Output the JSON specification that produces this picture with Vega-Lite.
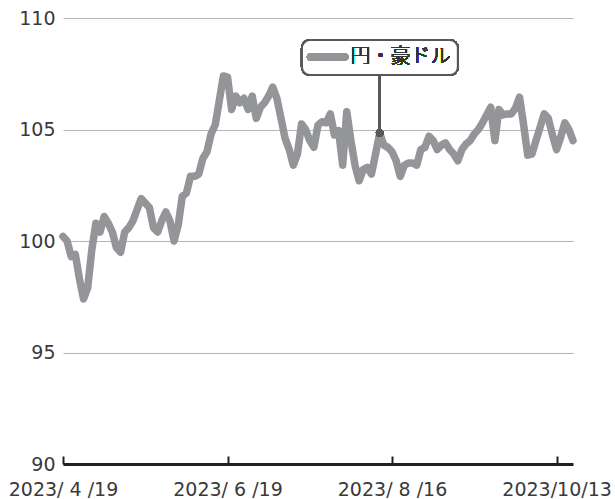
{
  "$schema": "https://vega.github.io/schema/vega-lite/v6.json",
  "autosize": "none",
  "width": 510,
  "height": 446,
  "padding": {"left": 63, "top": 18, "right": 42, "bottom": 35},
  "background": "white",
  "config": {
    "font": "DejaVu Sans",
    "view": {"stroke": null}
  },
  "data": {"values": [
    {"i":0,"value":100.2},{"i":1,"value":100.0},{"i":2,"value":99.3},{"i":3,"value":99.4},{"i":4,"value":98.3},
    {"i":5,"value":97.4},{"i":6,"value":97.9},{"i":7,"value":99.6},{"i":8,"value":100.8},{"i":9,"value":100.4},
    {"i":10,"value":101.1},{"i":11,"value":100.8},{"i":12,"value":100.4},{"i":13,"value":99.7},{"i":14,"value":99.5},
    {"i":15,"value":100.4},{"i":16,"value":100.6},{"i":17,"value":100.9},{"i":18,"value":101.4},{"i":19,"value":101.9},
    {"i":20,"value":101.7},{"i":21,"value":101.5},{"i":22,"value":100.6},{"i":23,"value":100.4},{"i":24,"value":100.9},
    {"i":25,"value":101.3},{"i":26,"value":100.9},{"i":27,"value":100.0},{"i":28,"value":100.7},{"i":29,"value":102.0},
    {"i":30,"value":102.15},{"i":31,"value":102.9},{"i":32,"value":102.9},{"i":33,"value":103.0},{"i":34,"value":103.7},
    {"i":35,"value":104.0},{"i":36,"value":104.8},{"i":37,"value":105.2},{"i":38,"value":106.3},{"i":39,"value":107.4},
    {"i":40,"value":107.35},{"i":41,"value":105.9},{"i":42,"value":106.5},{"i":43,"value":106.2},{"i":44,"value":106.4},
    {"i":45,"value":105.9},{"i":46,"value":106.5},{"i":47,"value":105.5},{"i":48,"value":106.0},{"i":49,"value":106.2},
    {"i":50,"value":106.5},{"i":51,"value":106.9},{"i":52,"value":106.4},{"i":53,"value":105.5},{"i":54,"value":104.6},
    {"i":55,"value":104.1},{"i":56,"value":103.4},{"i":57,"value":103.9},{"i":58,"value":105.25},{"i":59,"value":105.0},
    {"i":60,"value":104.5},{"i":61,"value":104.2},{"i":62,"value":105.2},{"i":63,"value":105.35},{"i":64,"value":105.3},
    {"i":65,"value":105.7},{"i":66,"value":104.75},{"i":67,"value":104.95},{"i":68,"value":103.4},{"i":69,"value":105.8},
    {"i":70,"value":104.5},{"i":71,"value":103.4},{"i":72,"value":102.7},{"i":73,"value":103.2},{"i":74,"value":103.3},
    {"i":75,"value":103.0},{"i":76,"value":103.9},{"i":77,"value":104.85},{"i":78,"value":104.3},{"i":79,"value":104.2},
    {"i":80,"value":104.0},{"i":81,"value":103.6},{"i":82,"value":102.9},{"i":83,"value":103.4},{"i":84,"value":103.5},
    {"i":85,"value":103.5},{"i":86,"value":103.4},{"i":87,"value":104.1},{"i":88,"value":104.2},{"i":89,"value":104.7},
    {"i":90,"value":104.5},{"i":91,"value":104.1},{"i":92,"value":104.3},{"i":93,"value":104.4},{"i":94,"value":104.1},
    {"i":95,"value":103.9},{"i":96,"value":103.6},{"i":97,"value":104.1},{"i":98,"value":104.35},{"i":99,"value":104.5},
    {"i":100,"value":104.8},{"i":101,"value":105.0},{"i":102,"value":105.3},{"i":103,"value":105.65},{"i":104,"value":106.0},
    {"i":105,"value":104.5},{"i":106,"value":105.9},{"i":107,"value":105.65},{"i":108,"value":105.7},{"i":109,"value":105.7},
    {"i":110,"value":105.95},{"i":111,"value":106.45},{"i":112,"value":105.2},{"i":113,"value":103.85},{"i":114,"value":103.9},
    {"i":115,"value":104.5},{"i":116,"value":105.1},{"i":117,"value":105.7},{"i":118,"value":105.5},{"i":119,"value":104.75},
    {"i":120,"value":104.1},{"i":121,"value":104.65},{"i":122,"value":105.3},{"i":123,"value":105.0},{"i":124,"value":104.5}
  ]},
  "encoding": {
    "x": {
      "field": "i", "type": "quantitative",
      "scale": {"domain": [0, 124], "nice": false, "zero": false},
      "axis": {
        "title": null, "grid": false,
        "values": [0, 40, 80, 120],
        "labelExpr": "datum.value == 0 ? '2023/ 4 /19' : datum.value == 40 ? '2023/ 6 /19' : datum.value == 80 ? '2023/ 8 /16' : '2023/10/13'",
        "domainColor": "#231f20", "domainWidth": 3,
        "tickColor": "#231f20", "tickWidth": 2, "tickSize": -8,
        "labelFontSize": 19, "labelColor": "#3a3a3a", "labelPadding": 24,
        "labelFlush": false, "labelOverlap": false
      }
    },
    "y": {
      "field": "value", "type": "quantitative",
      "scale": {"domain": [90, 110], "nice": false, "zero": false},
      "axis": {
        "title": null, "values": [90, 95, 100, 105, 110],
        "domain": false, "ticks": false,
        "grid": true, "gridColor": "#b5b5b5", "gridWidth": 1,
        "labelFontSize": 19, "labelColor": "#3a3a3a", "labelPadding": 8
      }
    }
  },
  "layer": [
    {
      "mark": {"type": "line", "color": "#939598", "strokeWidth": 7.5, "strokeJoin": "round", "strokeCap": "round"}
    },
    {
      "mark": {"type": "rule", "color": "#58595b", "strokeWidth": 2},
      "encoding": {
        "x": {"datum": 77, "type": "quantitative"},
        "y": {"datum": 107.44, "type": "quantitative"},
        "y2": {"datum": 104.85}
      }
    },
    {
      "mark": {"type": "point", "filled": true, "color": "#58595b", "size": 55, "opacity": 1},
      "encoding": {
        "x": {"datum": 77, "type": "quantitative"},
        "y": {"datum": 104.85, "type": "quantitative"}
      }
    },
    {
      "mark": {"type": "rect", "fill": "white", "stroke": "#58595b", "strokeWidth": 2, "cornerRadius": 8},
      "encoding": {
        "x": {"datum": 58.1, "type": "quantitative"},
        "x2": {"datum": 96.0},
        "y": {"datum": 109.01, "type": "quantitative"},
        "y2": {"datum": 107.44}
      }
    },
    {
      "mark": {"type": "rule", "color": "#939598", "strokeWidth": 7.5, "strokeCap": "round"},
      "encoding": {
        "x": {"datum": 60.2, "type": "quantitative"},
        "x2": {"datum": 68.5},
        "y": {"datum": 108.25, "type": "quantitative"}
      }
    },
    {
      "mark": {"type": "text", "text": "円・豪ドル", "font": "Noto Sans CJK JP", "fontWeight": 300, "fontSize": 20, "color": "#333333", "align": "left", "baseline": "middle"},
      "encoding": {
        "x": {"datum": 69.9, "type": "quantitative"},
        "y": {"datum": 108.25, "type": "quantitative"}
      }
    }
  ]
}
